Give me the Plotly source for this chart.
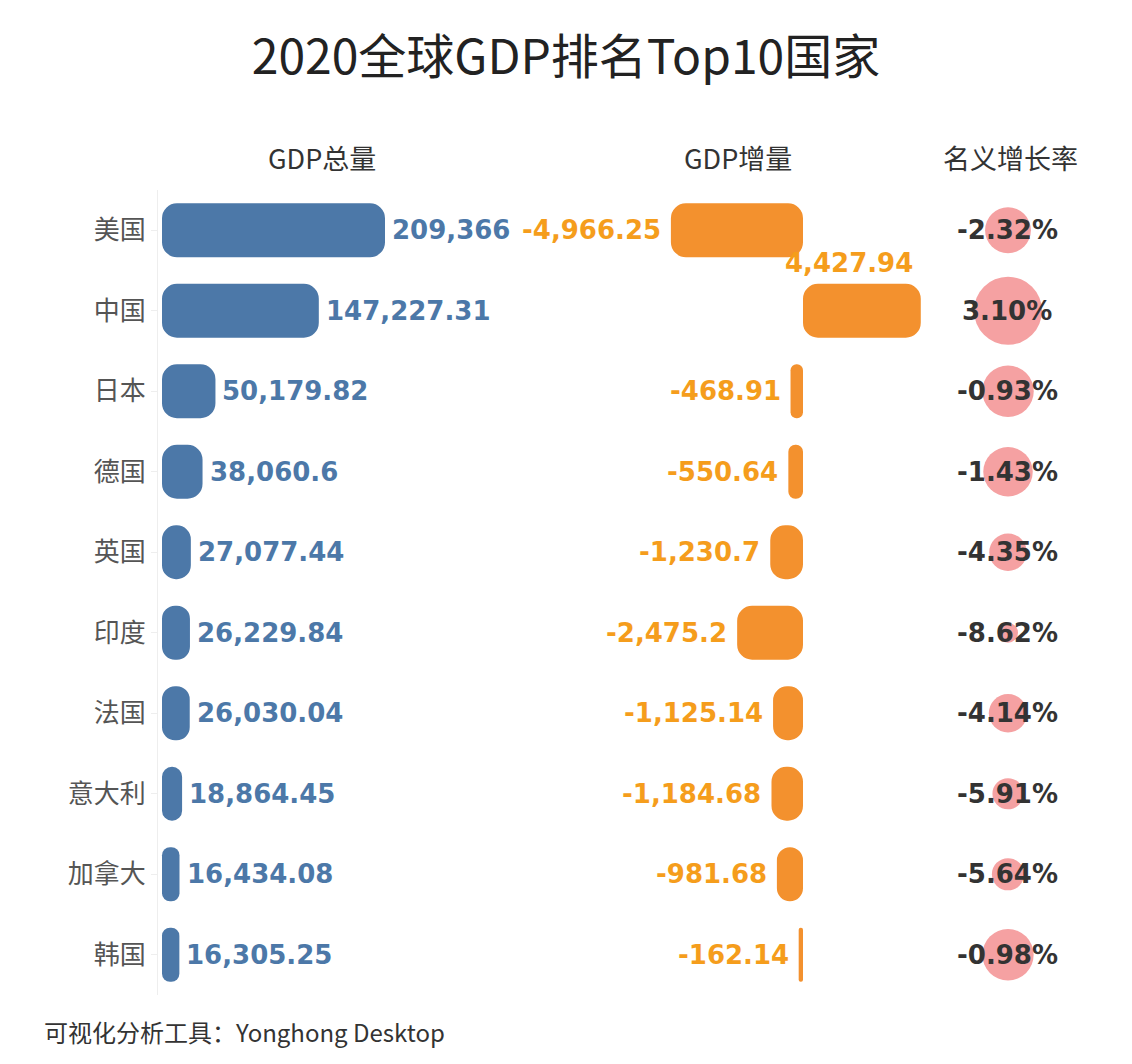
import plotly.graph_objects as go

countries = ["美国", "中国", "日本", "德国", "英国", "印度", "法国", "意大利", "加拿大", "韩国"]
gdp_total = [209366, 147227.31, 50179.82, 38060.6, 27077.44, 26229.84, 26030.04, 18864.45, 16434.08, 16305.25]
gdp_delta = [-4966.25, 4427.94, -468.91, -550.64, -1230.7, -2475.2, -1125.14, -1184.68, -981.68, -162.14]
growth_rate = [-2.32, 3.10, -0.93, -1.43, -4.35, -8.62, -4.14, -5.91, -5.64, -0.98]

BLUE = "#4C78A8"
ORANGE = "#F3912E"
ORANGE_TEXT = "#F59D1C"
PINK = "#F5A1A2"
DARK = "#333333"
NUM_FONT = "DejaVu Sans"
CJK_FONT = "Noto Sans CJK SC"
NUM_SIZE = 26
TEXT_DY = 0


def fmt(v):
    s = f"{v:,.2f}"
    if "." in s:
        s = s.rstrip("0").rstrip(".")
    return s


# page body has an 8px margin; work in screen pixels and convert
OFF = 8
W, H = 1116, 1048
ML, MT = 158 - OFF, 190 - OFF
MB = H - (995 - OFF)
MR = 0
PW = W - ML - MR
PH = H - MT - MB


def sx(px):
    return (px - OFF - ML) / PW


def sy(py):
    return (H - MB - (py - OFF)) / PH


def num_font(color):
    return dict(family=NUM_FONT, size=NUM_SIZE, color=color, weight="bold")


fig = go.Figure()

# --- Panel 1: GDP total
fig.add_trace(go.Bar(y=countries, x=gdp_total, base=[0] * len(gdp_total), orientation="h",
                     xaxis="x", yaxis="y",
                     marker=dict(color=BLUE, cornerradius=15, line=dict(width=0)),
                     width=0.67, hoverinfo="skip", showlegend=False))
for c, v in zip(countries, gdp_total):
    fig.add_annotation(x=v, y=c, xref="x", yref="y", text=fmt(v), showarrow=False,
                       xanchor="left", yanchor="middle", xshift=5, yshift=TEXT_DY,
                       font=num_font(BLUE))

# --- Panel 2: GDP delta
fig.add_trace(go.Bar(y=countries, x=gdp_delta, base=[0] * len(gdp_delta), orientation="h",
                     xaxis="x2", yaxis="y",
                     marker=dict(color=ORANGE, cornerradius=15, line=dict(width=0)),
                     width=0.67, hoverinfo="skip", showlegend=False))
for c, v in zip(countries, gdp_delta):
    if v < 0:
        fig.add_annotation(x=v, y=c, xref="x2", yref="y", text=fmt(v), showarrow=False,
                           xanchor="right", yanchor="middle", xshift=-8, yshift=TEXT_DY,
                           font=num_font(ORANGE_TEXT))
    else:
        fig.add_annotation(x=v, y=c, xref="x2", yref="y", text=fmt(v), showarrow=False,
                           xanchor="right", yanchor="middle", xshift=-6, yshift=48,
                           font=num_font(ORANGE_TEXT))

# --- Panel 3: growth rate circles
sizes = [20 + 4.1 * (g - min(growth_rate)) for g in growth_rate]
fig.add_trace(go.Scatter(y=countries, x=[0] * len(countries), mode="markers",
                         xaxis="x3", yaxis="y",
                         marker=dict(size=sizes, color=PINK, line=dict(width=0), opacity=1),
                         cliponaxis=False, hoverinfo="skip", showlegend=False))
for c, g in zip(countries, growth_rate):
    fig.add_annotation(x=0, y=c, xref="x3", yref="y", text=f"{g:.2f}%", showarrow=False,
                       xanchor="center", yanchor="middle", xshift=-1, yshift=TEXT_DY,
                       font=num_font(DARK))

s1 = 223 / 209366
s2 = 0.0266
axis_common = dict(showgrid=False, zeroline=False, showticklabels=False, showline=False, fixedrange=True)
fig.update_layout(
    width=W, height=H,
    margin=dict(l=ML, r=MR, t=MT, b=MB, autoexpand=False),
    paper_bgcolor="white", plot_bgcolor="white",
    barmode="overlay",
    xaxis=dict(domain=[0, sx(522)], range=[(158 - 162) / s1, (522 - 162) / s1], **axis_common),
    xaxis2=dict(domain=[sx(522), sx(930)], range=[(522 - 803) / s2, (930 - 803) / s2], anchor="y",
                **axis_common),
    xaxis3=dict(domain=[sx(936), sx(1080)], range=[-1, 1], anchor="y", **axis_common),
    yaxis=dict(categoryorder="array", categoryarray=countries, range=[len(countries) - 0.5, -0.5],
               showgrid=False, zeroline=False, showline=True, linecolor="#eeeeee", linewidth=1,
               ticks="outside", ticklen=6, tickcolor="#eeeeee",
               tickfont=dict(family=CJK_FONT, size=26, color="#555555"), anchor="x", fixedrange=True),
    title=dict(text="2020全球GDP排名Top10国家", x=(566 - OFF) / W, xanchor="center",
               y=1 - (57 - OFF) / H, yanchor="middle",
               font=dict(family=CJK_FONT, size=48, color="#222222")),
    font=dict(family=CJK_FONT),
)

headers = [("GDP总量", 322), ("GDP增量", 738), ("名义增长率", 1010)]
for txt, px in headers:
    fig.add_annotation(x=sx(px), y=sy(157), xref="paper", yref="paper", text=txt, showarrow=False,
                       xanchor="center", yanchor="middle",
                       font=dict(family=CJK_FONT, size=27, color="#333333"))

fig.add_annotation(x=sx(42), y=sy(1031), xref="paper", yref="paper",
                   text="可视化分析工具：Yonghong Desktop", showarrow=False,
                   xanchor="left", yanchor="middle",
                   font=dict(family=CJK_FONT, size=24, color="#333333"))

fig.write_html("out.html")
